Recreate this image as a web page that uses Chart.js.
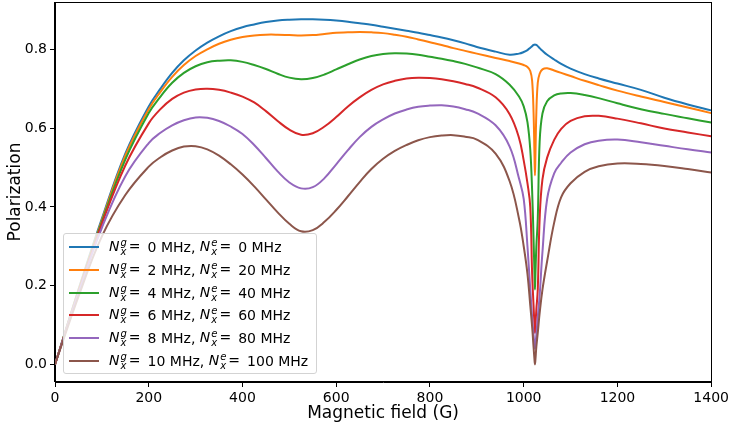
<!DOCTYPE html>
<html>
<head>
<meta charset="utf-8">
<script src="https://cdn.jsdelivr.net/npm/chart.js@4.4.1/dist/chart.umd.min.js"></script>
<style>
  html, body { margin: 0; padding: 0; background: #fff; }
  #wrap { position: relative; width: 732px; height: 427px; }
  #legend {
    position: absolute; left: 63px; top: 233px; width: 254px; height: 141px;
    box-sizing: border-box; border: 1px solid #d3d3d3; border-radius: 3px;
    background: rgba(255,255,255,0.8);
    font-family: 'DejaVu Sans', sans-serif; font-size: 14px; color: #000;
  }
  .row { position: absolute; left: 0; height: 20px; display: flex; align-items: center; white-space: nowrap; }
  .swatch { width: 30px; height: 2px; margin-left: 5px; margin-right: 10px; }
  .m i { font-style: italic; }
  .ss { display: inline-flex; flex-direction: column; font-style: italic; font-size: 10px; line-height: 9px; vertical-align: 5px; margin-left: 1px; }
  .eq { margin-left: 2px; margin-right: 7px; }
</style>
</head>
<body>
<div id="wrap">
  <canvas id="chart" width="732" height="427"></canvas>
  <div id="legend"></div>
</div>
<script>
// magnetic field (G)
var fields = [0, 50, 100, 150, 200, 225, 250, 275, 300, 325, 350, 375, 400, 425, 450, 475, 500, 525, 550, 575,
  600, 625, 650, 675, 700, 725, 750, 775, 800, 825, 850, 875, 900, 940, 970, 990, 1000, 1008, 1014, 1018,
  1021, 1023, 1024, 1025, 1027, 1030, 1034, 1040, 1050, 1065, 1080, 1100, 1130, 1160, 1200, 1250, 1300, 1350, 1400];

var pol0 = [0, 0.19, 0.37, 0.535, 0.655, 0.7, 0.74, 0.772, 0.797, 0.817, 0.833, 0.846, 0.856, 0.863, 0.869, 0.873, 0.875, 0.876, 0.876, 0.875,
  0.873, 0.87, 0.866, 0.862, 0.857, 0.852, 0.847, 0.842, 0.836, 0.83, 0.823, 0.815, 0.806, 0.794, 0.786, 0.789, 0.793, 0.798, 0.804, 0.808,
  0.811, 0.8115, 0.812, 0.8115, 0.811, 0.808, 0.803, 0.796, 0.786, 0.774, 0.763, 0.751, 0.737, 0.726, 0.713, 0.697, 0.677, 0.66, 0.645];

var pol2 = [0, 0.188, 0.366, 0.53, 0.648, 0.692, 0.73, 0.76, 0.783, 0.8, 0.814, 0.824, 0.831, 0.835, 0.837, 0.837, 0.836, 0.835, 0.836, 0.839,
  0.842, 0.843, 0.844, 0.843, 0.841, 0.837, 0.832, 0.825, 0.818, 0.811, 0.803, 0.796, 0.789, 0.778, 0.77, 0.764, 0.76, 0.755, 0.745, 0.72,
  0.64, 0.53, 0.48, 0.53, 0.64, 0.715, 0.738, 0.749, 0.752, 0.746, 0.74, 0.732, 0.72, 0.709, 0.695, 0.68, 0.666, 0.652, 0.638];

var pol4 = [0, 0.186, 0.362, 0.52, 0.638, 0.68, 0.715, 0.74, 0.757, 0.767, 0.771, 0.772, 0.768, 0.76, 0.75, 0.738, 0.728, 0.724, 0.727, 0.736,
  0.749, 0.762, 0.774, 0.783, 0.788, 0.79, 0.789, 0.786, 0.781, 0.776, 0.77, 0.763, 0.754, 0.737, 0.71, 0.68, 0.655, 0.615, 0.545, 0.44,
  0.32, 0.23, 0.19, 0.23, 0.3, 0.37, 0.565, 0.637, 0.668, 0.683, 0.688, 0.689, 0.684, 0.676, 0.663, 0.648, 0.636, 0.625, 0.614];

var pol6 = [0, 0.184, 0.357, 0.505, 0.612, 0.648, 0.674, 0.69, 0.698, 0.7, 0.697, 0.69, 0.68, 0.665, 0.643, 0.618, 0.596, 0.583, 0.587, 0.604,
  0.628, 0.655, 0.678, 0.697, 0.711, 0.72, 0.726, 0.728, 0.727, 0.724, 0.719, 0.712, 0.703, 0.678, 0.635, 0.575, 0.518, 0.46, 0.4, 0.23,
  0.15, 0.1, 0.08, 0.1, 0.14, 0.19, 0.37, 0.47, 0.525, 0.57, 0.598, 0.618, 0.63, 0.631, 0.624, 0.612, 0.599, 0.589, 0.579];

var pol8 = [0, 0.181, 0.347, 0.478, 0.562, 0.588, 0.607, 0.62, 0.627, 0.626, 0.618, 0.604, 0.585, 0.557, 0.524, 0.49, 0.462, 0.447, 0.45, 0.473,
  0.508, 0.544, 0.577, 0.603, 0.622, 0.637, 0.647, 0.654, 0.657, 0.658, 0.655, 0.648, 0.638, 0.607, 0.553, 0.472, 0.42, 0.3, 0.19, 0.12,
  0.075, 0.05, 0.04, 0.05, 0.075, 0.12, 0.175, 0.285, 0.42, 0.485, 0.512, 0.538, 0.559, 0.568, 0.571, 0.564, 0.555, 0.546, 0.538];

var pol10 = [0, 0.172, 0.325, 0.43, 0.502, 0.526, 0.543, 0.553, 0.554, 0.546, 0.53, 0.508, 0.482, 0.452, 0.419, 0.386, 0.357, 0.338, 0.341, 0.362,
  0.392, 0.427, 0.463, 0.496, 0.522, 0.542, 0.557, 0.569, 0.577, 0.581, 0.582, 0.578, 0.571, 0.535, 0.465, 0.37, 0.3, 0.23, 0.15, 0.095,
  0.045, 0.012, 0, 0.012, 0.045, 0.08, 0.13, 0.19, 0.262, 0.36, 0.425, 0.46, 0.489, 0.503, 0.51, 0.509, 0.504, 0.496, 0.487];

var groundShifts = [0, 2, 4, 6, 8, 10];      // N_x^g (MHz)
var excitedShifts = [0, 20, 40, 60, 80, 100]; // N_x^e (MHz)
var colors = ['#1f77b4', '#ff7f0e', '#2ca02c', '#d62728', '#9467bd', '#8c564b'];
var xTicks = [0, 200, 400, 600, 800, 1000, 1200, 1400];
var yTicks = [0.0, 0.2, 0.4, 0.6, 0.8];

var series = [pol0, pol2, pol4, pol6, pol8, pol10];
var font = "'DejaVu Sans', sans-serif";

var datasets = series.map(function(vals, i) {
  return {
    label: 'Ng=' + groundShifts[i] + ' MHz, Ne=' + excitedShifts[i] + ' MHz',
    data: fields.map(function(f, j) { return { x: f, y: vals[j] }; }),
    borderColor: colors[i],
    backgroundColor: colors[i],
    borderWidth: 2,
    pointRadius: 0,
    fill: false,
    tension: 0.4,
    order: series.length - 1 - i
  };
});

// axes frame like matplotlib (all four sides)
var framePlugin = {
  id: 'frame',
  afterDatasetsDraw: function(chart) {
    var a = chart.chartArea, ctx = chart.ctx;
    ctx.save();
    ctx.strokeStyle = '#000';
    ctx.lineWidth = 1;
    ctx.strokeRect(Math.round(a.left) - 0.5, Math.round(a.top) + 0.5, Math.round(a.right - a.left) + 1, Math.round(a.bottom - a.top) - 1);
    ctx.restore();
  }
};

Chart.defaults.font.family = font;
Chart.defaults.color = '#000';

new Chart(document.getElementById('chart'), {
  type: 'line',
  data: { datasets: datasets },
  options: {
    responsive: false,
    animation: false,
    layout: { padding: { left: 0, right: 20, top: 2, bottom: 0 } },
    plugins: { legend: { display: false }, tooltip: { enabled: false } },
    scales: {
      x: {
        type: 'linear',
        min: 0, max: 1400,
        afterBuildTicks: function(s) { s.ticks = xTicks.map(function(v) { return { value: v }; }); },
        afterFit: function(s) { s.height = 45; s.paddingLeft = 0; },
        grid: { drawOnChartArea: false, drawTicks: true, tickLength: 5, color: '#000' },
        border: { display: true, color: '#000', width: 1 },
        ticks: { font: { size: 14 }, padding: 3, maxRotation: 0, callback: function(v) { return v; } },
        title: { display: true, text: 'Magnetic field (G)', font: { size: 17 }, padding: { top: 2, bottom: 3 } }
      },
      y: {
        min: -0.0445, max: 0.92,
        afterBuildTicks: function(s) { s.ticks = yTicks.map(function(v) { return { value: v }; }); },
        afterFit: function(s) { s.width = 55; s.paddingTop = 0; s.paddingBottom = 0; },
        grid: { drawOnChartArea: false, drawTicks: true, tickLength: 5, color: '#000' },
        border: { display: true, color: '#000', width: 1 },
        ticks: { font: { size: 14 }, padding: 3, callback: function(v) { return v.toFixed(1); } },
        title: { display: true, text: 'Polarization', font: { size: 17 }, padding: { top: 5, bottom: 4 } }
      }
    }
  },
  plugins: [framePlugin]
});

// legend drawn as HTML over the axes (lower left, like matplotlib)
var legend = document.getElementById('legend');
var rowCenters = [12.7, 35.6, 58.5, 81.4, 104.3, 127.2];
groundShifts.forEach(function(g, i) {
  var row = document.createElement('div');
  row.className = 'row';
  row.style.top = (rowCenters[i] - 10) + 'px';
  row.innerHTML =
    '<span class="swatch" style="background:' + colors[i] + '"></span>' +
    '<span class="m"><i>N</i><span class="ss"><span>g</span><span>x</span></span><span class="eq">=</span></span>' +
    '<span>' + g + ' MHz,&nbsp;</span>' +
    '<span class="m"><i>N</i><span class="ss"><span>e</span><span>x</span></span><span class="eq">=</span></span>' +
    '<span>' + excitedShifts[i] + ' MHz</span>';
  legend.appendChild(row);
});
</script>
</body>
</html>
